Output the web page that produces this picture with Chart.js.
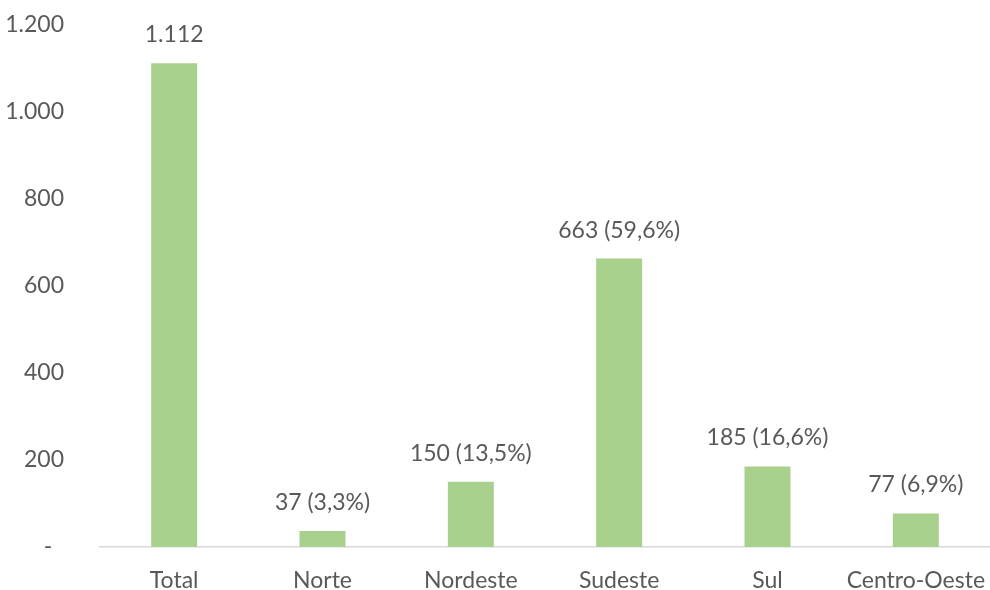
<!DOCTYPE html>
<html>
<head>
<meta charset="utf-8">
<script src="https://cdn.jsdelivr.net/npm/chart.js@4"></script>
<style>
  body { margin: 0; background: #fff; }
  #wrap { width: 990px; height: 590px; position: relative; }
</style>
</head>
<body>
<div id="wrap"><canvas id="regionChart"></canvas></div>
<script>
// Categories and values
var categories = ['Total', 'Norte', 'Nordeste', 'Sudeste', 'Sul', 'Centro-Oeste'];
var values = [1112, 37, 150, 663, 185, 77];
var valueLabels = ['1.112', '37 (3,3%)', '150 (13,5%)', '663 (59,6%)', '185 (16,6%)', '77 (6,9%)'];
var yTicks = ['-  ', '200', '400', '600', '800', '1.000', '1.200'];

var textColor = '#595959';
var fontFamily = 'Lato, "Open Sans", sans-serif';
var fontSize = 23;

// Draw the value labels above each bar
var barLabels = {
    id: 'barLabels',
    afterDatasetsDraw: function(chart) {
        var ctx = chart.ctx;
        var meta = chart.getDatasetMeta(0);
        ctx.save();
        ctx.fillStyle = textColor;
        ctx.font = fontSize + 'px ' + fontFamily;
        ctx.textAlign = 'center';
        ctx.textBaseline = 'bottom';
        meta.data.forEach(function(bar, i) {
            ctx.fillText(valueLabels[i], bar.x, bar.y - 17);
        });
        ctx.restore();
    }
};

var ctx = document.getElementById('regionChart').getContext('2d');
new Chart(ctx, {
    type: 'bar',
    data: {
        labels: categories,
        datasets: [{
            data: values,
            backgroundColor: '#A9D18E',
            barPercentage: 0.62,
            categoryPercentage: 0.5
        }]
    },
    options: {
        responsive: true,
        maintainAspectRatio: false,
        animation: false,
        layout: { padding: { top: 25, right: 0, bottom: 0, left: 0 } },
        plugins: {
            legend: { display: false },
            tooltip: { enabled: false }
        },
        scales: {
            x: {
                grid: { display: false },
                border: { color: '#d9d9d9', width: 1.5 },
                afterFit: function(scale) {
                    scale.height = 43;
                    scale.paddingLeft = 0;
                    scale.paddingRight = 0;
                },
                ticks: {
                    color: textColor,
                    font: { family: fontFamily, size: fontSize },
                    padding: 12,
                    maxRotation: 0,
                    autoSkip: false
                }
            },
            y: {
                min: 0,
                max: 1200,
                grid: { display: false },
                border: { display: false },
                afterFit: function(scale) {
                    scale.width = 100;
                    scale.paddingTop = 0;
                    scale.paddingBottom = 0;
                },
                ticks: {
                    stepSize: 200,
                    color: textColor,
                    font: { family: fontFamily, size: fontSize },
                    padding: 28,
                    callback: function(v, i) { return yTicks[i]; }
                }
            }
        }
    },
    plugins: [barLabels]
});
</script>
</body>
</html>
